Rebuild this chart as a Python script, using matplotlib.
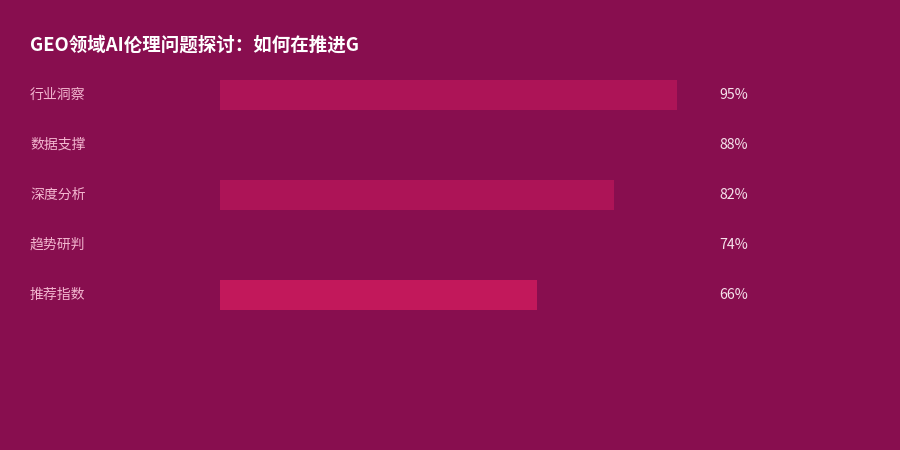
import matplotlib
matplotlib.use('Agg')
import matplotlib.pyplot as plt

plt.rcParams['font.family'] = ['Noto Sans CJK SC', 'DejaVu Sans']

# data
categories = ['行业洞察', '数据支撑', '深度分析', '趋势研判', '推荐指数']
values = [95, 88, 82, 74, 66]
bar_colors = ['#AD1457', '#880E4F', '#AD1457', '#880E4F', '#C2185B']
title = 'GEO领域AI伦理问题探讨：如何在推进G'

bg = '#880E4F'
W, H = 900, 450

fig = plt.figure(figsize=(9, 4.5), dpi=100, facecolor=bg)

# bar area: x 220..701 px for 0..100%, rows 50 px apart starting at y=70
ax = fig.add_axes([220 / W, 1 - 320 / H, 481 / W, 250 / H])
ax.set_facecolor(bg)
ax.barh(range(len(categories)), values, height=0.6, color=bar_colors, linewidth=0)
ax.set_xlim(0, 100)
ax.set_ylim(len(categories) - 0.5, -0.5)
ax.axis('off')

for i, (cat, val) in enumerate(zip(categories, values)):
    y = 1 - (95 + 50 * i) / H
    fig.text(30 / W, y, cat, color='#F3B6CF', fontsize=10, va='center', ha='left')
    fig.text(719 / W, y, f'{val}%', color='#F6E3EC', fontsize=10.2, va='center', ha='left')

fig.text(30 / W, 1 - 45 / H, title, color='white', fontsize=13.3, fontweight='bold',
         va='center', ha='left')

fig.savefig('out.png', dpi=100, facecolor=bg)
